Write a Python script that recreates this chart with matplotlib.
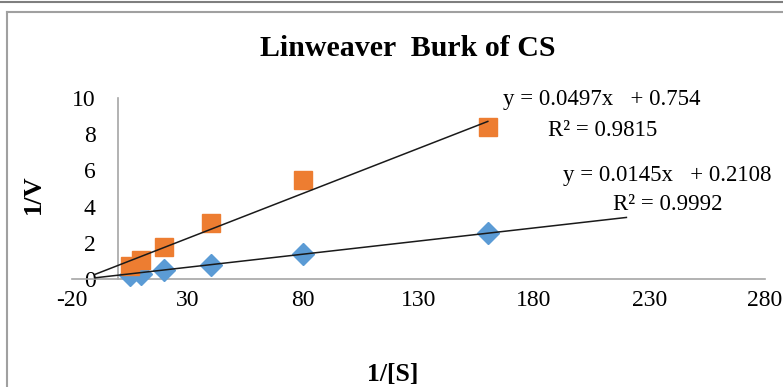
import numpy as np
import matplotlib.pyplot as plt
from matplotlib.lines import Line2D

# 1/[S] values and 1/V for the two series
inv_s = [5, 10, 20, 40, 80, 160]
inv_v_orange = [0.7, 1.05, 1.77, 3.1, 5.47, 8.4]
inv_v_blue = [0.2, 0.3, 0.5, 0.75, 1.38, 2.53]

# trendline coefficients as printed on the chart
fit_orange = (0.0497, 0.754)
fit_blue = (0.0145, 0.2108)
eq_orange = ["y = 0.0497x   + 0.754", "R\u00b2 = 0.9815"]
eq_blue = ["y = 0.0145x   + 0.2108", "R\u00b2 = 0.9992"]

xticks = [-20, 30, 80, 130, 180, 230, 280]
yticks = [0, 2, 4, 6, 8, 10]

plt.rcParams["font.family"] = ["Liberation Serif", "DejaVu Serif"]
plt.rcParams["axes.unicode_minus"] = False

W, H = 783, 387
fig = plt.figure(figsize=(W / 100, H / 100), dpi=100)
ax = fig.add_axes([72 / W, 1 - 279 / H, (765 - 72) / W, (279 - 98) / H])

orange = "#ED7D31"
blue = "#5B9BD5"

ax.plot(inv_s, inv_v_blue, linestyle="none", marker="D", ms=11, color=blue, zorder=3, clip_on=False)
ax.plot(inv_s, inv_v_orange, linestyle="none", marker="s", ms=13, color=orange, zorder=3, clip_on=False)

# trendlines (backward forecast 10, blue forward forecast 60)
xo = np.array([-10, 160])
xb = np.array([-10, 220])
ax.plot(xo, fit_orange[0] * xo + fit_orange[1], color="#1a1a1a", lw=1.1, zorder=4)
ax.plot(xb, fit_blue[0] * xb + fit_blue[1], color="#1a1a1a", lw=1.1, zorder=4)

ax.set_xlim(-20, 280)
ax.set_ylim(0, 10)
ax.set_xticks(xticks)
ax.set_yticks(yticks)

for s in ["top", "right"]:
    ax.spines[s].set_visible(False)
ax.spines["left"].set_position(("data", -9.8))
ax.spines["left"].set_visible(False)
ax.spines["bottom"].set_color("#a6a6a6")
ax.spines["bottom"].set_linewidth(1.2)
ax.plot([0, 0], [0, 10], color="#a6a6a6", lw=1.2, zorder=2, clip_on=False)

ax.tick_params(axis="both", length=0, labelsize=17)
ax.tick_params(axis="x", pad=8)
ax.tick_params(axis="y", pad=0)

# chart frame
fig.add_artist(Line2D([0, 1], [1 - 2 / H, 1 - 2 / H], color="#7f7f7f", lw=1.5))
fig.add_artist(Line2D([7 / W, 1], [1 - 12 / H, 1 - 12 / H], color="#a0a0a0", lw=1.5))
fig.add_artist(Line2D([7 / W, 7 / W], [0, 1 - 12 / H], color="#a0a0a0", lw=1.5))

fig.text(408 / W, 1 - 48 / H, "Linweaver  Burk of CS", ha="center", va="center",
         fontsize=21.5, fontweight="bold")
fig.text(33 / W, 1 - 194 / H, "1/V", ha="center", va="center", rotation=90,
         fontsize=19, fontweight="bold")
fig.text(393 / W, 1 - 375 / H, "1/[S]", ha="center", va="center",
         fontsize=18.5, fontweight="bold")

fig.text(602 / W, 1 - 100 / H, eq_orange[0], ha="center", va="center", fontsize=16.5)
fig.text(603 / W, 1 - 130 / H, eq_orange[1], ha="center", va="center", fontsize=16.5)
fig.text(667 / W, 1 - 175 / H, eq_blue[0], ha="center", va="center", fontsize=16.5)
fig.text(668 / W, 1 - 205 / H, eq_blue[1], ha="center", va="center", fontsize=16.5)

fig.savefig("out.png", dpi=100, facecolor="white")
